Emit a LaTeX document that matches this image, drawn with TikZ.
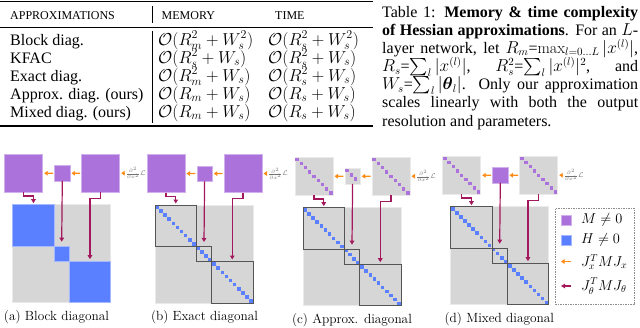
\documentclass[tikz,border=0pt]{standalone}
\usepackage{amsmath}
\usepackage{fontspec}
\newfontfamily\tnr{Liberation Serif}
\usetikzlibrary{arrows.meta}
\definecolor{purp}{HTML}{AB72DB}
\definecolor{blu}{HTML}{5A80FF}
\definecolor{gry}{HTML}{D6D6D6}
\definecolor{orng}{HTML}{FF8A14}
\definecolor{mag}{HTML}{A3175C}
\definecolor{outl}{HTML}{555555}
\tikzset{
 tt/.style={font={\tnr\fontsize{16}{18}\selectfont}, inner sep=0, anchor=base west},
 tm/.style={font={\fontsize{17}{19}\selectfont}, inner sep=0, anchor=base west},
 th/.style={font={\tnr\fontsize{12}{14}\selectfont}, inner sep=0, anchor=base west},
 bigsq/.style={minimum size=38pt, inner sep=0, outer sep=0},
 smsq/.style={minimum size=15.3pt, inner sep=0, outer sep=0},
 pfill/.style={fill=purp, draw=purp!55!white, line width=0.5pt},
 gfill/.style={fill=gry, draw=gry!50!white, line width=0.5pt},
 matbg/.style={minimum size=98pt, inner sep=0, outer sep=0, fill=gry, draw=gry!50!white, line width=0.5pt},
 blkA/.style={inner sep=0, outer sep=0, fill=blu, draw=blu!55!white, line width=0.5pt},
 blkO/.style={inner sep=0, outer sep=0, draw=outl, line width=0.8pt},
 oarr/.style={draw=orng, line width=1.2pt, -{Triangle[length=3.5pt,width=4.5pt]}},
 marr/.style={draw=mag, line width=1.2pt, -{Triangle[length=4pt,width=4.5pt]}},
 dlabel/.style={font={\fontsize{7}{8}\selectfont}, text=black!55, inner sep=0},
 subcap/.style={font={\fontsize{13.3}{15}\selectfont}, inner sep=0},
 lgt/.style={font={\fontsize{14.5}{16}\selectfont}, inner sep=0, anchor=west},
}
\newcommand\bluediag{\foreach \k in {0,...,23}{\fill[blu] ({(\k+0.5)*98/24-1.8},{(\k+0.5)*98/24-1.8}) rectangle ++(3.6,3.6);}}
\newcommand\pdiag[4]{\foreach \k in {1,...,#3}{\fill[purp] ({#1+(\k-0.5)*#4-1.7},{#2+(\k-0.5)*#4-1.7}) rectangle ++(3.4,3.4);}}
\newcommand\panel[8]{%
\begin{scope}[shift={#2}]
 \node[matbg] (#1M) at (49,49) {};
 #7
 \node[#3, minimum size=41.5pt] (#1B1) at (20.75,20.75) {};
 \node[#3, minimum size=15pt] (#1B2) at (49,49) {};
 \node[#3, minimum size=41.5pt] (#1B3) at (77.25,77.25) {};
 \node[#4, bigsq] (#1L) at (11,-31.5) {};
 \node[#5, smsq] (#1S) at (49.6,-31.4) {};
 \node[#6, bigsq] (#1R) at (88,-31.5) {};
 #8
 \node[dlabel] (#1D) at (123,-31.5) {$\frac{\partial^2}{\partial x^2}\mathcal{L}$};
 \draw[oarr] ([xshift=-1.5pt]#1S.west) -- ([xshift=1.5pt]#1L.east);
 \draw[oarr] ([xshift=-1.5pt]#1R.west) -- ([xshift=1.5pt]#1S.east);
 \draw[oarr] ([xshift=-1.5pt]#1D.west) -- ([xshift=1.5pt]#1R.east);
 \draw[marr] (#1L.south) -- ++(0,3.8) -| ([yshift=1.5pt]#1B1.north);
 \draw[marr] (#1S.south) -- ([yshift=4.5pt]#1B2.north);
 \draw[marr] (#1R.south) -- ++(0,6.3) -| ([yshift=2pt]#1B3.north);
\end{scope}}
\begin{document}
\begin{tikzpicture}[x=1pt,y=-1pt]
\path[use as bounding box] (0,0) rectangle (640,327);
% ---------- table ----------
\draw[line width=1.3pt] (0,1.5) -- (373,1.5);
\draw[line width=0.8pt] (0,27) -- (373,27);
\draw[line width=1.3pt] (0,126) -- (373,126);
\draw[line width=0.7pt] (152,6) -- (152,23);
\draw[line width=0.7pt] (152,31) -- (152,123);
\node[th] (hA) at (10,19.3) {APPROXIMATIONS};
\node[th] (hM) at (161.5,19.3) {MEMORY};
\node[th] (hT) at (275,19.3) {TIME};
\node[tt] (r1) at (10,45) {Block diag.};
\node[tt] (r2) at (10,63) {KFAC};
\node[tt] (r3) at (10,81) {Exact diag.};
\node[tt] (r4) at (10,99) {Approx. diag. (ours)};
\node[tt] (r5) at (10,117) {Mixed diag. (ours)};
\node[tm] (m1) at (158,45) {$\mathcal{O}(R_m^2+W_s^2)$};
\node[tm] (m2) at (158,63) {$\mathcal{O}(R_s^2+W_s)$};
\node[tm] (m3) at (158,81) {$\mathcal{O}(R_m^2+W_s)$};
\node[tm] (m4) at (158,99) {$\mathcal{O}(R_m+W_s)$};
\node[tm] (m5) at (158,117) {$\mathcal{O}(R_m+W_s)$};
\node[tm] (t1) at (268,45) {$\mathcal{O}(R_s^2+W_s^2)$};
\node[tm] (t2) at (268,63) {$\mathcal{O}(R_s^2+W_s)$};
\node[tm] (t3) at (268,81) {$\mathcal{O}(R_s^2+W_s)$};
\node[tm] (t4) at (268,99) {$\mathcal{O}(R_s+W_s)$};
\node[tm] (t5) at (268,117) {$\mathcal{O}(R_s+W_s)$};
% ---------- caption ----------
\node[tt] (c1) at (382,17) {\makebox[256pt][s]{Table 1: \textbf{Memory \& time complexity}}};
\node[tt] (c2) at (382,35.2) {\makebox[256pt][s]{\textbf{of Hessian approximations}. For an $L$-}};
\node[tt] (c3) at (382,53.3) {\makebox[256pt][s]{layer network, let $R_m$=$\max_{l=0\dots L}|x^{(l)}|$,}};
\node[tt] (c4) at (382,71.5) {\makebox[256pt][s]{$R_s$=$\sum_l|x^{(l)}|$, $R_s^2$=$\sum_l|x^{(l)}|^2$, and}};
\node[tt] (c5) at (382,89.7) {\makebox[256pt][s]{$W_s$=$\sum_l|\boldsymbol{\theta}_l|$. Only our approximation}};
\node[tt] (c6) at (382,107.8) {\makebox[256pt][s]{scales linearly with both the output}};
\node[tt] (c7) at (382,126) {resolution and parameters.};
% ---------- panels ----------
\panel{a}{(12.7,204.7)}{blkA}{pfill}{pfill}{pfill}{}{}
\panel{b}{(155,205)}{blkO}{pfill}{pfill}{pfill}{\bluediag}{}
\panel{c}{(303,207.7)}{blkO}{gfill}{gfill}{gfill}{\bluediag}{\pdiag{-8}{-50.5}{9}{4.222}\pdiag{41.95}{-39.05}{3}{4.2}\pdiag{69}{-50.5}{9}{4.222}}
\panel{d}{(450.7,206.7)}{blkO}{gfill}{pfill}{gfill}{\bluediag}{\pdiag{-8}{-50.5}{9}{4.222}\pdiag{69}{-50.5}{9}{4.222}}
\node[subcap] (capa) at (56.5,317) {(a) Block diagonal};
\node[subcap] (capb) at (204.5,317) {(b) Exact diagonal};
\node[subcap] (capc) at (352,320) {(c) Approx. diagonal};
\node[subcap] (capd) at (499.3,318.7) {(d) Mixed diagonal};
% ---------- legend ----------
\node[draw=black!45, dash pattern=on 1.5pt off 1pt, line width=0.6pt, minimum width=79pt, minimum height=96.5pt, inner sep=0] (leg) at (594.7,256.3) {};
\node[pfill, minimum size=10pt, inner sep=0] (lgM) at (566.2,220) {};
\node[blkA, minimum size=10pt] (lgH) at (566.2,240) {};
\coordinate (lgOa) at (571,261.5);
\coordinate (lgOb) at (561,261.5);
\draw[oarr] (lgOa) -- (lgOb);
\coordinate (lgPa) at (571,286);
\coordinate (lgPb) at (561,286);
\draw[marr] (lgPa) -- (lgPb);
\node[lgt] (lgMt) at (581,220) {$M\neq 0$};
\node[lgt] (lgHt) at (581,240) {$H\neq 0$};
\node[lgt] (lgOt) at (581,262) {$J_x^TMJ_x$};
\node[lgt] (lgPt) at (581,286) {$J_\theta^TMJ_\theta$};
\end{tikzpicture}
\end{document}
